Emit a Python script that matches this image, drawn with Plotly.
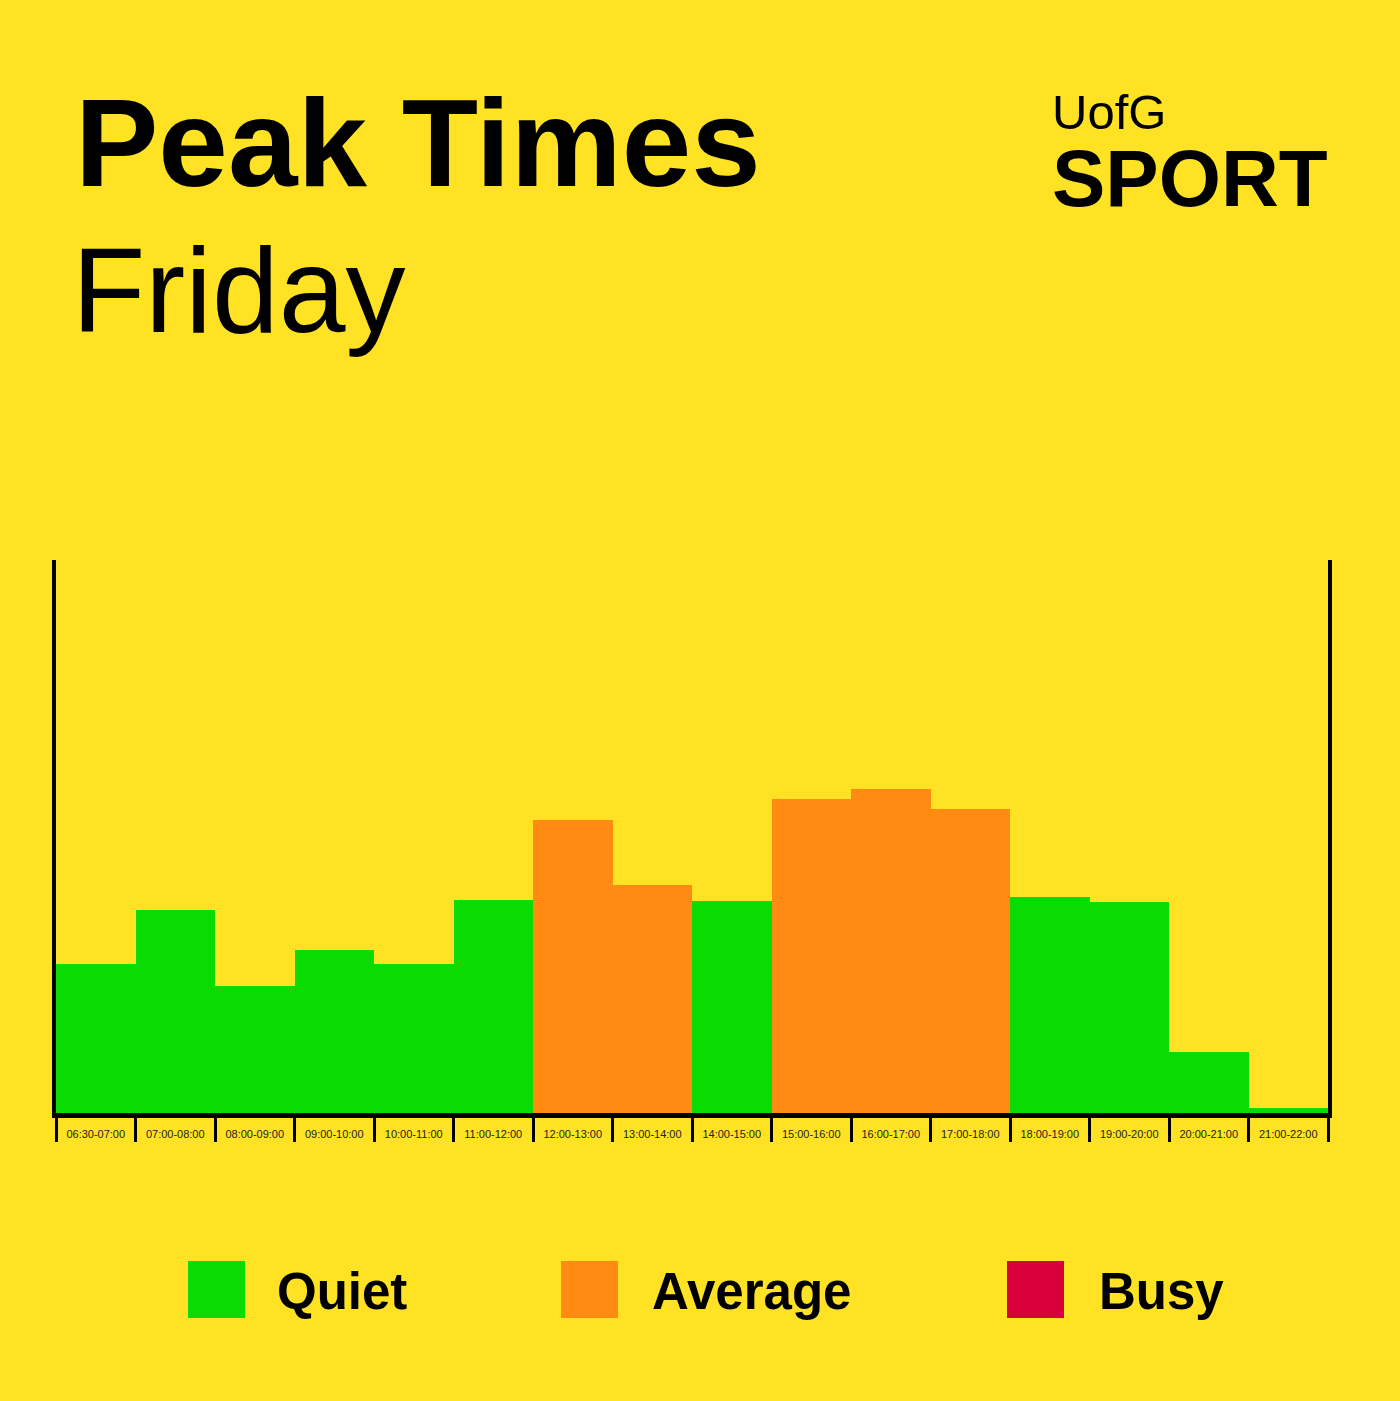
import plotly.graph_objects as go

# ---- data ----
time_slots = ["06:30-07:00", "07:00-08:00", "08:00-09:00", "09:00-10:00", "10:00-11:00",
              "11:00-12:00", "12:00-13:00", "13:00-14:00", "14:00-15:00", "15:00-16:00",
              "16:00-17:00", "17:00-18:00", "18:00-19:00", "19:00-20:00", "20:00-21:00",
              "21:00-22:00"]
occupancy = [26.9, 36.7, 23.0, 29.4, 27.0, 38.5, 53.0, 41.2, 38.3, 56.8, 58.6, 55.0,
             39.0, 38.1, 11.1, 0.9]
status = ["Quiet", "Quiet", "Quiet", "Quiet", "Quiet", "Quiet", "Average", "Average",
          "Quiet", "Average", "Average", "Average", "Quiet", "Quiet", "Quiet", "Quiet"]
levels = ["Quiet", "Average", "Busy"]

# ---- style ----
BG = "#FEE223"
COLORS = {"Quiet": "#0ADB02", "Average": "#FF8B12", "Busy": "#D7003A"}
W, H = 1400, 1401
PL, PR, PT, PB = 56, 1328, 560, 1113  # plot area pixels

def px_x(x):
    return (x - PL) / (PR - PL)

def px_y(y):
    return (PB - y) / (PB - PT)

fig = go.Figure()
fig.add_trace(go.Bar(
    x=time_slots, y=occupancy,
    marker=dict(color=[COLORS[s] for s in status], line=dict(width=0)),
    showlegend=False, hoverinfo="x+y",
))

fig.update_layout(
    width=W, height=H,
    margin=dict(l=PL, r=W - PR, t=PT, b=H - PB, pad=0),
    paper_bgcolor=BG, plot_bgcolor=BG,
    bargap=0,
    font=dict(family="Liberation Sans, Arial, sans-serif", color="#000"),
)
fig.update_xaxes(
    type="category", range=[-0.5, len(time_slots) - 0.5],
    showline=True, linecolor="#000", linewidth=5, mirror=False,
    ticks="outside", tickson="boundaries", ticklen=24, tickwidth=3, tickcolor="#000",
    tickfont=dict(size=11, color="#222"), ticklabelstandoff=7,
    showgrid=False, zeroline=False,
)
fig.update_yaxes(
    range=[0, 100], showline=True, linecolor="#000", linewidth=4, mirror=True,
    showticklabels=False, ticks="", showgrid=False, zeroline=False,
)

annotations = [
    dict(text="<b>Peak Times</b>", x=px_x(73), y=px_y(142), size=125),
    dict(text="Friday", x=px_x(70), y=px_y(290), size=120),
    dict(text="UofG", x=px_x(1050), y=px_y(112), size=49),
    dict(text="<b>SPORT</b>", x=px_x(1050), y=px_y(178), size=80),
]
legend_pos = {"Quiet": (188, 275), "Average": (561, 650), "Busy": (1007, 1097)}
shapes = []
for lv in levels:
    sx, tx = legend_pos[lv]
    shapes.append(dict(type="rect", xref="paper", yref="paper",
                       x0=px_x(sx), x1=px_x(sx + 57), y0=px_y(1318), y1=px_y(1261),
                       fillcolor=COLORS[lv], line=dict(width=0)))
    annotations.append(dict(text=f"<b>{lv}</b>", x=px_x(tx), y=px_y(1291), size=51))

fig.update_layout(
    annotations=[dict(text=a["text"], x=a["x"], y=a["y"], xref="paper", yref="paper",
                      xanchor="left", yanchor="middle", showarrow=False,
                      font=dict(size=a["size"], color="#000",
                                family="Liberation Sans, Arial, sans-serif"))
                 for a in annotations],
    shapes=shapes,
)

fig.write_html(
    "out.html",
    config={"displayModeBar": False},
    post_script=f"document.body.style.margin='0';document.body.style.background='{BG}';",
)
